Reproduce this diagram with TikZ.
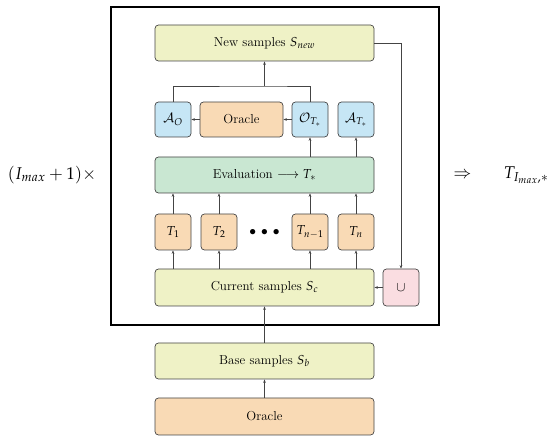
\documentclass[tikz,border=0pt]{standalone}
\usepackage{mathpazo}
\usetikzlibrary{arrows.meta}
\definecolor{cyel}{HTML}{EFF2C6}
\definecolor{cora}{HTML}{F9DAB5}
\definecolor{cblu}{HTML}{C6E6F5}
\definecolor{cgrn}{HTML}{C9E7D2}
\definecolor{cpnk}{HTML}{FADDE1}
\definecolor{cbrd}{HTML}{444444}
\begin{document}
\begin{tikzpicture}[x=1pt,y=-1pt,
  box/.style={draw=cbrd,line width=0.7pt,rounded corners=3.5pt,inner sep=0pt,font=\fontsize{13}{15}\selectfont},
  wide/.style={box,minimum width=219pt,minimum height=36pt},
  small/.style={box,minimum width=36pt,minimum height=35pt},
  arr/.style={-{Stealth[length=3.5pt,width=2.6pt]},line width=0.5pt,draw=cbrd}]
\useasboundingbox (0,0) rectangle (550,441);
\draw[line width=1.1pt] (111,7) rectangle (439,325);
\node[wide,fill=cyel] (new) at (264.5,43) {New samples $S_{new}$};
\node[small,fill=cblu] (ao) at (173,119.5) {$\mathcal{A}_O$};
\node[box,fill=cora,minimum width=83pt,minimum height=35pt] (orc) at (241.5,119.5) {Oracle};
\node[small,fill=cblu] (ot) at (310,119.5) {$\mathcal{O}_{T_*}$};
\node[small,fill=cblu] (at) at (356,119.5) {$\mathcal{A}_{T_*}$};
\node[wide,fill=cgrn] (ev) at (264.5,175) {Evaluation $\longrightarrow T_*$};
\node[small,fill=cora,minimum height=36pt] (t1) at (173,232) {$T_1$};
\node[small,fill=cora,minimum height=36pt] (t2) at (219,232) {$T_2$};
\node[font=\fontsize{13}{15}\selectfont] (dots) at (264.5,232) {$\bullet\,\bullet\,\bullet$};
\node[small,fill=cora,minimum height=36pt] (tn1) at (310,232) {$T_{n-1}$};
\node[small,fill=cora,minimum height=36pt] (tn) at (356,232) {$T_n$};
\node[wide,fill=cyel,minimum height=37pt] (cur) at (264.5,287.5) {Current samples $S_c$};
\node[small,fill=cpnk,minimum height=37pt] (un) at (401,287.5) {$\cup$};
\node[wide,fill=cyel] (base) at (264.5,361) {Base samples $S_b$};
\node[wide,fill=cora,minimum height=37pt] (orb) at (264.5,416.5) {Oracle};
\node[font=\fontsize{17}{20}\selectfont] (lhs) at (52,175) {$(I_{max}+1)\times$};
\node[font=\fontsize{17}{20}\selectfont,anchor=west] (rhs) at (450,175) {$\Rightarrow\quad\ \ T_{I_{max},*}$};
\coordinate (j) at (264.5,86);
% top joins
\draw[line width=0.5pt,draw=cbrd] (ao.north) |- (j) -| (ot.north);
\draw[arr] (j) -- (new.south);
\draw[arr] (ot.west) -- (orc.east);
\draw[arr] (orc.west) -- (ao.east);
\draw[arr] (new.east) -| (un.north);
\draw[arr] (un.west) -- (cur.east);
% eval to O, A
\draw[arr] (ev.north -| ot) -- (ot.south);
\draw[arr] (ev.north -| at) -- (at.south);
% T to eval
\foreach \n in {t1,t2,tn1,tn}{
  \draw[arr] (\n.north) -- (ev.south -| \n);
  \draw[arr] (cur.north -| \n) -- (\n.south);
}
\draw[arr] (base.north) -- (cur.south);
\draw[arr] (orb.north) -- (base.south);
\end{tikzpicture}
\end{document}
